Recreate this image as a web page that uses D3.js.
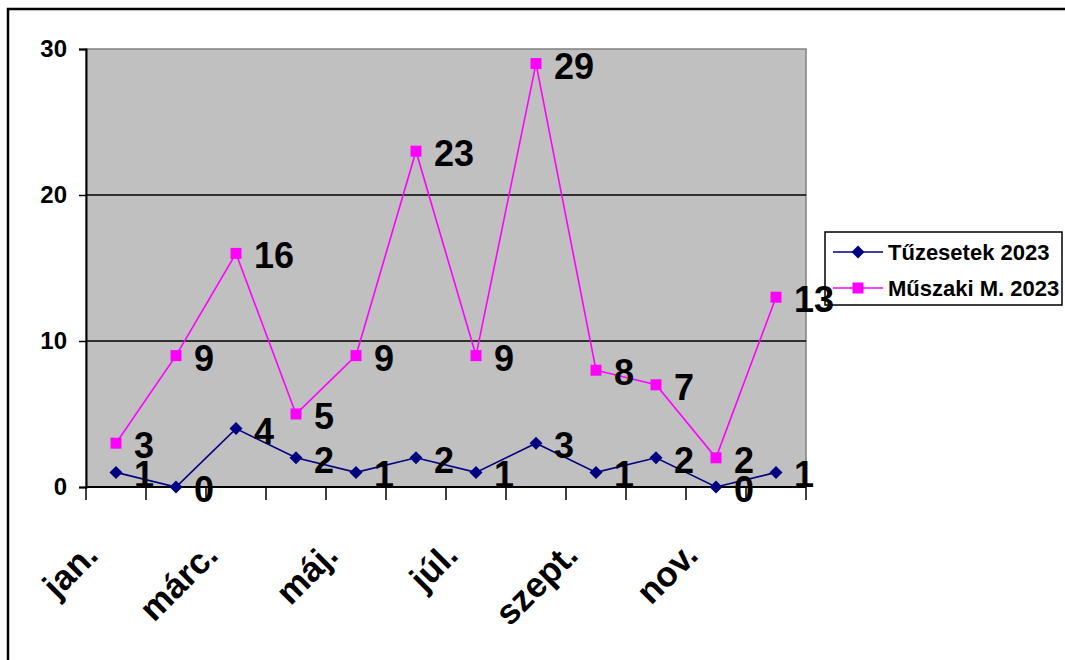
<!DOCTYPE html>
<html>
<head>
<meta charset="utf-8">
<script src="https://cdn.jsdelivr.net/npm/d3@7"></script>
<style>
  html, body { margin: 0; padding: 0; background: #fff; }
  svg { display: block; font-family: "Liberation Sans", Arial, sans-serif; }
</style>
</head>
<body>
<svg id="chart" width="1065" height="660"></svg>
<script>
const months = ["jan.", "febr.", "márc.", "ápr.", "máj.", "jún.", "júl.", "aug.", "szept.", "okt.", "nov.", "dec."];
const shownMonths = ["jan.", "márc.", "máj.", "júl.", "szept.", "nov."];
const tuzesetek = [1, 0, 4, 2, 1, 2, 1, 3, 1, 2, 0, 1];
const muszaki = [3, 9, 16, 5, 9, 23, 9, 29, 8, 7, 2, 13];
const yTicks = [0, 10, 20, 30];
const seriesNames = ["Tűzesetek 2023", "Műszaki M. 2023"];

const svg = d3.select("#chart");
const plot = { left: 86, top: 49, right: 806, bottom: 487 };

const x = d3.scaleBand().domain(months).range([plot.left, plot.right]);
const y = d3.scaleLinear().domain([0, 30]).range([plot.bottom, plot.top]);

// outer frame
svg.append("rect")
  .attr("x", 8).attr("y", 9).attr("width", 1070).attr("height", 670)
  .attr("fill", "#fff").attr("stroke", "#000").attr("stroke-width", 2.5);

// plot area
svg.append("rect")
  .attr("x", plot.left).attr("y", plot.top)
  .attr("width", plot.right - plot.left).attr("height", plot.bottom - plot.top)
  .attr("fill", "#C0C0C0").attr("stroke", "#808080").attr("stroke-width", 1.5);

// gridlines
svg.append("g").selectAll("line")
  .data(yTicks.filter(d => d > 0 && d < 30))
  .join("line")
  .attr("x1", plot.left).attr("x2", plot.right)
  .attr("y1", d => y(d)).attr("y2", d => y(d))
  .attr("stroke", "#000").attr("stroke-width", 1.5);

// y axis
const yAxis = svg.append("g")
  .attr("transform", `translate(${plot.left},0)`)
  .call(d3.axisLeft(y).tickValues(yTicks).tickSize(7).tickPadding(12).tickFormat(d3.format("d")));
yAxis.select(".domain").attr("stroke", "#000").attr("stroke-width", 2);
yAxis.selectAll(".tick line").attr("stroke", "#000").attr("stroke-width", 1.5);
yAxis.selectAll(".tick text")
  .attr("font-size", 24).attr("font-weight", "bold").attr("fill", "#000")
  .attr("font-family", "'Liberation Sans', Arial, sans-serif");

// x axis: ticks at category boundaries
const boundaries = months.map(m => x(m)).concat([plot.right]);
const xg = svg.append("g");
xg.append("line")
  .attr("x1", plot.left).attr("x2", plot.right)
  .attr("y1", plot.bottom).attr("y2", plot.bottom)
  .attr("stroke", "#000").attr("stroke-width", 2);
xg.selectAll("line.tk").data(boundaries).join("line")
  .attr("class", "tk")
  .attr("x1", d => d).attr("x2", d => d)
  .attr("y1", plot.bottom).attr("y2", plot.bottom + 13)
  .attr("stroke", "#000").attr("stroke-width", 1.5);
xg.selectAll("text").data(shownMonths).join("text")
  .attr("transform", d => `translate(${x(d) + x.bandwidth() / 2 - 16},${557}) rotate(-45)`)
  .attr("text-anchor", "end")
  .attr("font-size", 35).attr("font-weight", "bold").attr("fill", "#000")
  .text(d => d);

// lines & markers
const series = [
  { name: seriesNames[0], values: tuzesetek, color: "#000080", shape: "diamond" },
  { name: seriesNames[1], values: muszaki, color: "#FF00FF", shape: "square" }
];
const cx = i => x(months[i]) + x.bandwidth() / 2;
const line = d3.line().x((d, i) => cx(i)).y(d => y(d));

function drawMarker(g, shape, color, px, py) {
  if (shape === "diamond") {
    g.append("path")
      .attr("d", `M${px},${py - 6.5}L${px + 6.5},${py}L${px},${py + 6.5}L${px - 6.5},${py}Z`)
      .attr("fill", color);
  } else {
    g.append("rect")
      .attr("x", px - 5.5).attr("y", py - 5.5).attr("width", 11).attr("height", 11)
      .attr("fill", color);
  }
}

series.forEach(s => {
  const g = svg.append("g");
  g.append("path").datum(s.values)
    .attr("d", line).attr("fill", "none")
    .attr("stroke", s.color).attr("stroke-width", 1.6);
  s.values.forEach((v, i) => drawMarker(g, s.shape, s.color, cx(i), y(v)));
});

// legend
const lg = svg.append("g");
lg.append("rect")
  .attr("x", 825).attr("y", 232).attr("width", 237).attr("height", 73)
  .attr("fill", "#fff").attr("stroke", "#000").attr("stroke-width", 1.5);
series.forEach((s, i) => {
  const ly = 252 + i * 36;
  lg.append("line").attr("x1", 833).attr("x2", 883).attr("y1", ly).attr("y2", ly)
    .attr("stroke", s.color).attr("stroke-width", 1.6);
  drawMarker(lg, s.shape, s.color, 858, ly);
  lg.append("text").attr("x", 888).attr("y", ly + 8)
    .attr("font-size", 22).attr("font-weight", "bold").attr("fill", "#000")
    .text(s.name);
});

// data labels
series.forEach(s => {
  svg.append("g").selectAll("text").data(s.values).join("text")
    .attr("x", (d, i) => cx(i) + 18)
    .attr("y", d => y(d) + 15)
    .attr("font-size", 36).attr("font-weight", "bold").attr("fill", "#000")
    .text(d => d);
});
</script>
</body>
</html>
